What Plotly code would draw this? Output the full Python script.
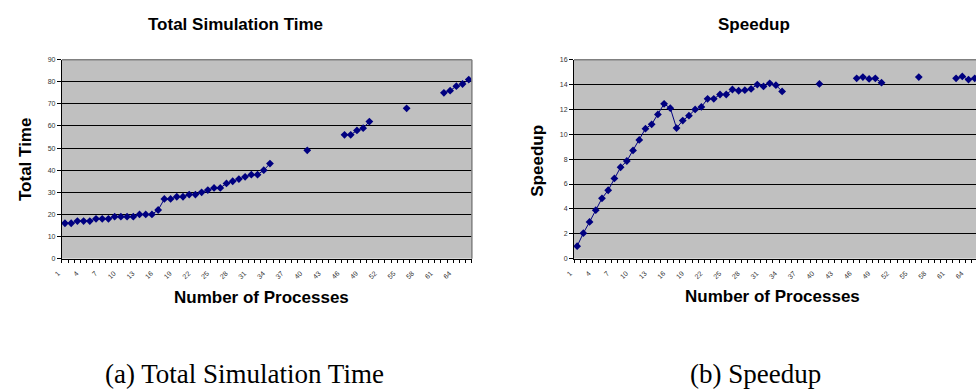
import plotly.graph_objects as go

W, H = 976, 389

processes = list(range(1, 67))
total_time = [16, 16, 17, 17, 17, 18, 18, 18, 19, 19, 19, 19, 20, 20, 20, 22,
              27, 27, 28, 28, 29, 29, 30, 31, 32, 32, 34, 35, 36, 37, 38, 38,
              40, 43, None, None, None, None, None, 49, None, None, None, None,
              None, 56, 56, 58, 59, 62, None, None, None, None, None, 68, None,
              None, None, None, None, 75, 76, 78, 79, 81]
speedup = [1.0, 2.05, 2.95, 3.9, 4.85, 5.5, 6.45, 7.35, 7.85, 8.7, 9.55, 10.45,
           10.8, 11.6, 12.45, 12.1, 10.5, 11.1, 11.5, 12.0, 12.2, 12.85, 12.85,
           13.2, 13.2, 13.6, 13.5, 13.55, 13.65, 14.0, 13.85, 14.1, 13.95, 13.45,
           None, None, None, None, None, 14.05, None, None, None, None, None,
           14.5, 14.6, 14.45, 14.5, 14.15, None, None, None, None, None, 14.6,
           None, None, None, None, None, 14.5, 14.65, 14.4, 14.5, None]
tick_labels = [str(v) for v in range(1, 65, 3)]
tick_positions = list(range(1, 65, 3))

NAVY = "#000080"
SANS = "Arial, Liberation Sans, sans-serif"
SERIF = "Liberation Serif, Times New Roman, serif"


def px(x):
    return x / W


def py(y):
    return 1 - y / H


fig = go.Figure()
fig.add_trace(go.Scatter(x=processes, y=total_time, mode="lines+markers",
                         line=dict(color=NAVY, width=1),
                         marker=dict(symbol="diamond", size=6, color=NAVY),
                         connectgaps=False, xaxis="x", yaxis="y",
                         showlegend=False))
fig.add_trace(go.Scatter(x=processes, y=speedup, mode="lines+markers",
                         line=dict(color=NAVY, width=1),
                         marker=dict(symbol="diamond", size=6, color=NAVY),
                         connectgaps=False, xaxis="x2", yaxis="y2",
                         showlegend=False))

ydom = [py(259.3), py(56.7)]
cw = (467.7 - 54.3) / 66.0

xcommon = dict(showgrid=False, zeroline=False, showline=True, linecolor="black",
               linewidth=1, ticks="outside", ticklen=3,
               tickcolor="rgba(0,0,0,0)", tickangle=-45,
               ticklabelshift=-7, ticklabelstandoff=4,
               tickmode="array", tickvals=tick_positions, ticktext=tick_labels,
               tickfont=dict(family=SANS, size=7, color="#333333"),
               minor=dict(tickmode="linear", tick0=0.5, dtick=1,
                          ticks="outside", ticklen=3, tickcolor="black",
                          showgrid=False))
ycommon = dict(showgrid=True, gridcolor="black", gridwidth=1, zeroline=False,
               showline=True, linecolor="black", linewidth=1, ticks="outside",
               ticklen=4, tickcolor="black",
               tickfont=dict(family=SANS, size=7, color="#333333"))

fig.update_layout(
    width=W, height=H, margin=dict(l=0, r=0, t=0, b=0),
    paper_bgcolor="white", plot_bgcolor="#C0C0C0",
    xaxis=dict(domain=[px(54.3), px(467.7)], range=[0.5, 66.5], anchor="y",
               **xcommon),
    yaxis=dict(domain=ydom, range=[0, 90], dtick=10, anchor="x", **ycommon),
    xaxis2=dict(domain=[px(570.7), 1.0],
                range=[0.5, 0.5 + (W - 570.7) / cw], anchor="y2", **xcommon),
    yaxis2=dict(domain=ydom, range=[0, 16], dtick=2, anchor="x2", **ycommon),
)

# gray plot-area borders (top / right)
for xr, yr in (("x domain", "y domain"), ("x2 domain", "y2 domain")):
    fig.add_shape(type="line", xref=xr, yref=yr, x0=0, x1=1, y0=1, y1=1,
                  line=dict(color="#808080", width=1.5))
fig.add_shape(type="line", xref="x domain", yref="y domain", x0=1, x1=1,
              y0=0, y1=1, line=dict(color="#808080", width=1.5))


def label(text, x, y, size, family=SANS, bold=True, angle=0):
    t = f"<b>{text}</b>" if bold else text
    fig.add_annotation(text=t, x=px(x), y=py(y), xref="paper", yref="paper",
                       xanchor="center", yanchor="middle", showarrow=False,
                       textangle=angle,
                       font=dict(family=family, size=size, color="black"))


label("Total Simulation Time", 229, 21, 17)
label("Total Time", 17, 158, 17, angle=-90)
label("Number of Processes", 256, 299, 17)
label("Speedup", 752, 21, 17)
label("Speedup", 533, 160, 17, angle=-90)
label("Number of Processes", 771, 298, 17)
label("(a) Total Simulation Time", 238, 377, 27, family=SERIF, bold=False)
label("(b) Speedup", 754, 377, 27, family=SERIF, bold=False)

fig.write_html("out.html", config={"displayModeBar": False},
               post_script="document.body.style.margin='0';"
                           "document.body.style.overflow='hidden';")
